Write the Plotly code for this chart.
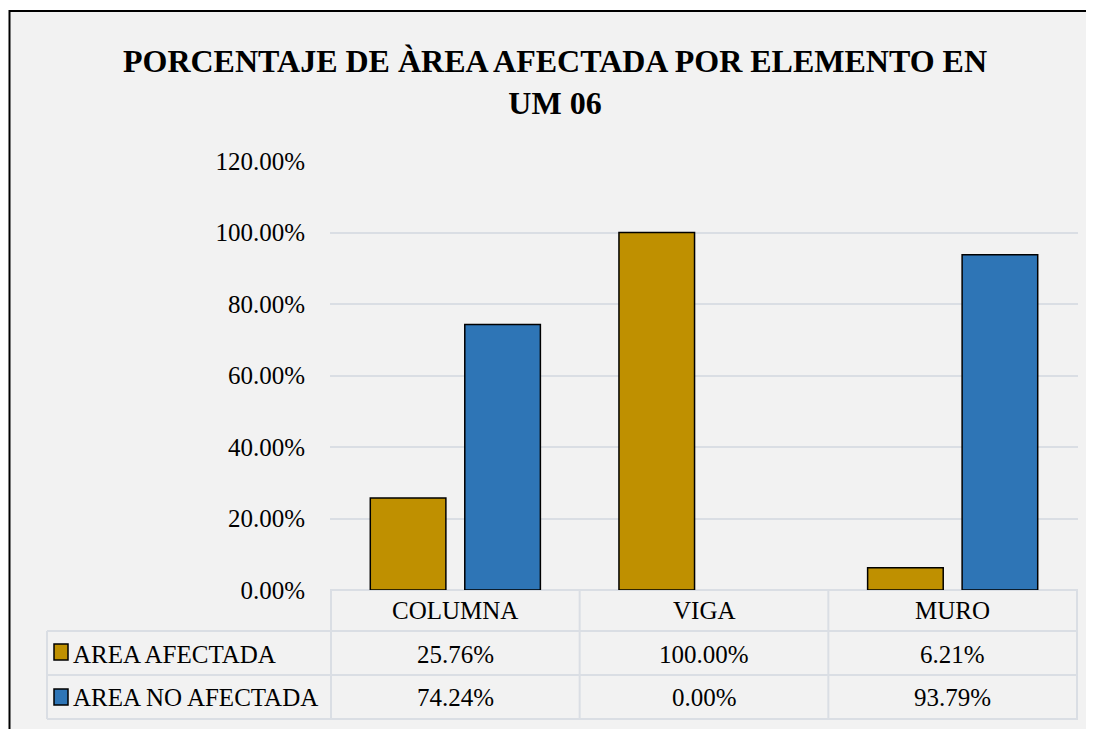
import plotly.graph_objects as go

categories = ["COLUMNA", "VIGA", "MURO"]
series_names = ["AREA AFECTADA", "AREA NO AFECTADA"]
area_afectada = [25.76, 100.00, 6.21]
area_no_afectada = [74.24, 0.00, 93.79]
y_ticks = [0, 20, 40, 60, 80, 100, 120]
title_text = "PORCENTAJE DE ÀREA AFECTADA POR ELEMENTO EN<br>UM 06"

colors = ["#BF9000", "#2E75B6"]
FONT = "Liberation Serif, Times New Roman, serif"
GRID = "#DADEE4"
TXT = 25

OFF = 8  # page body margin
W, H = 1094 - OFF, 729 - OFF
L, R, T, B = 330 - OFF, 1078 - OFF, 161 - OFF, 590 - OFF

def px(x):
    return (x - OFF - L) / (R - L)

def py(y):
    return (B - (y - OFF)) / (B - T)

fig = go.Figure()
for name, vals, col in zip(series_names, [area_afectada, area_no_afectada], colors):
    fig.add_trace(go.Bar(
        x=categories, y=vals, name=name,
        marker=dict(color=col,
                    line=dict(color="#000000", width=[1.5 if v > 0 else 0 for v in vals])),
        showlegend=False,
    ))

shapes = []
shapes.append(dict(type="rect", xref="paper", yref="paper", layer="below",
                   x0=px(9.5), x1=px(1120), y0=py(11), y1=py(760),
                   fillcolor="#F2F2F2", line=dict(color="#000000", width=2)))

for yy in [631, 675, 719]:
    shapes.append(dict(type="line", xref="paper", yref="paper",
                       x0=px(47), x1=px(1078), y0=py(yy), y1=py(yy),
                       line=dict(color=GRID, width=2)))
shapes.append(dict(type="line", xref="paper", yref="paper",
                   x0=px(47), x1=px(47), y0=py(631), y1=py(719),
                   line=dict(color=GRID, width=2)))
for i in range(len(categories) + 1):
    shapes.append(dict(type="line", xref="x", yref="paper",
                       x0=i - 0.5, x1=i - 0.5, y0=0, y1=py(719),
                       line=dict(color=GRID, width=2)))
for col, yc in zip(colors, [652, 697]):
    shapes.append(dict(type="rect", xref="paper", yref="paper",
                       x0=px(54), x1=px(68), y0=py(yc - 8), y1=py(yc + 8),
                       fillcolor=col, line=dict(color="#000000", width=1.5)))

annotations = []
for c in categories:
    annotations.append(dict(x=c, xref="x", y=py(610), yref="paper", text=c,
                            showarrow=False, font=dict(family=FONT, size=TXT, color="#000"),
                            xanchor="center", yanchor="middle"))
for name, vals, yc in zip(series_names, [area_afectada, area_no_afectada], [654, 697]):
    annotations.append(dict(x=px(71), xref="paper", y=py(yc), yref="paper", text=name,
                            showarrow=False, font=dict(family=FONT, size=TXT, color="#000"),
                            xanchor="left", yanchor="middle"))
    for c, v in zip(categories, vals):
        annotations.append(dict(x=c, xref="x", y=py(yc), yref="paper", text=f"{v:.2f}%",
                                showarrow=False, font=dict(family=FONT, size=TXT, color="#000"),
                                xanchor="center", yanchor="middle"))

fig.update_layout(
    width=W, height=H,
    margin=dict(l=L, r=W - R, t=T, b=H - B, pad=0),
    paper_bgcolor="#FFFFFF",
    plot_bgcolor="rgba(0,0,0,0)",
    barmode="group", bargap=0.24, bargroupgap=0.2,
    title=dict(text=title_text, x=(555 - OFF) / W, xanchor="center", xref="container",
               y=1 - (72 - OFF) / H, yanchor="middle", yref="container",
               font=dict(family=FONT, size=32, color="#000000", weight="bold")),
    font=dict(family=FONT, size=TXT, color="#000000"),
    shapes=shapes, annotations=annotations,
    xaxis=dict(showticklabels=False, showgrid=False, zeroline=False, showline=False,
               ticks=""),
    yaxis=dict(range=[0, 120], tickvals=y_ticks,
               ticktext=[f"{v:.2f}%" for v in y_ticks],
               showgrid=True, gridcolor=GRID, gridwidth=2,
               zeroline=True, zerolinecolor=GRID, zerolinewidth=2,
               showline=False, ticks="", ticklabelstandoff=24,
               tickfont=dict(family=FONT, size=TXT, color="#000")),
)

fig.write_html("out.html")
